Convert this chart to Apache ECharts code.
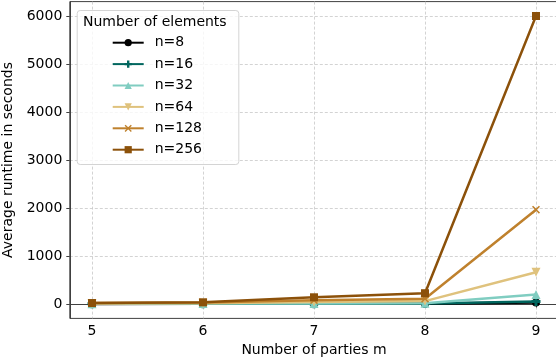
<!DOCTYPE html>
<html>
<head>
<meta charset="utf-8">
<script src="https://cdn.jsdelivr.net/npm/echarts@6/dist/echarts.min.js"></script>
<style>
  html, body { margin: 0; padding: 0; background: #fff; }
  #chart { width: 556px; height: 362px; }
</style>
</head>
<body>
<div id="chart"></div>
<script>
// Number of parties on the x axis
const parties = [5, 6, 7, 8, 9];
// Average runtime (seconds) for each number of elements
const n8   = [2, 3, 4, 5, 30];
const n16  = [3, 4, 6, 8, 50];
const n32  = [5, 8, 10, 15, 200];
const n64  = [10, 15, 40, 60, 660];
const n128 = [20, 30, 80, 110, 1965];
const n256 = [20, 35, 140, 225, 6000];
const seriesNames = ['n=8', 'n=16', 'n=32', 'n=64', 'n=128', 'n=256'];
const xTicks = [5, 6, 7, 8, 9];
const yTicks = [0, 1000, 2000, 3000, 4000, 5000, 6000];

const FONT = 'DejaVu Sans';
const plusPath = 'path://M-1,-3H1V-1H3V1H1V3H-1V1H-3V-1H-1Z';
const xPath = 'path://M-3,-2.2L-2.2,-3L0,-0.8L2.2,-3L3,-2.2L0.8,0L3,2.2L2.2,3L0,0.8L-2.2,3L-3,2.2L-0.8,0Z';

const styles = [
  { color: '#000000', symbol: 'circle', size: 8 },
  { color: '#01665e', symbol: plusPath, size: 9 },
  { color: '#80cdc1', symbol: 'triangle', size: 9 },
  { color: '#dfc27d', symbol: 'triangle', size: 9, rotate: 180 },
  { color: '#bf812d', symbol: xPath, size: 8 },
  { color: '#8c510a', symbol: 'rect', size: 8 }
];
const values = [n8, n16, n32, n64, n128, n256];

const series = values.map((vals, i) => ({
  name: seriesNames[i],
  type: 'line',
  data: parties.map((p, j) => [p, vals[j]]),
  symbol: styles[i].symbol,
  symbolSize: styles[i].size,
  symbolRotate: styles[i].rotate || 0,
  showSymbol: true,
  lineStyle: { color: styles[i].color, width: 2.5 },
  itemStyle: { color: styles[i].color, borderWidth: 0 },
  emphasis: { disabled: true },
  animation: false,
  z: 3 + i
}));

const gridLine = { show: true, lineStyle: { color: '#c8c8c8', width: 0.8, type: [3, 2] } };

const chart = echarts.init(document.getElementById('chart'), null, { renderer: 'canvas' });
chart.setOption({
  animation: false,
  backgroundColor: '#ffffff',
  textStyle: { fontFamily: FONT },
  grid: {
    left: 69.8, top: 1.6, width: 488.4, height: 316.8,
    containLabel: false, outerBoundsMode: 'none',
    show: true, borderColor: '#404040', borderWidth: 1,
    backgroundColor: 'transparent'
  },
  xAxis: {
    type: 'value', min: 4.8, max: 9.2,
    name: 'Number of parties m', nameLocation: 'middle', nameGap: 21,
    nameTextStyle: { fontSize: 14, color: '#000', fontFamily: FONT },
    axisLine: { show: true, lineStyle: { color: '#404040', width: 1 } },
    axisTick: { show: true, length: 3.5, customValues: xTicks, lineStyle: { color: '#404040' } },
    axisLabel: { customValues: xTicks, fontSize: 14, color: '#000', margin: 6, fontFamily: FONT },
    splitLine: gridLine
  },
  yAxis: {
    type: 'value', min: -300, max: 6300,
    name: 'Average runtime in seconds', nameLocation: 'middle', nameGap: 48,
    nameTextStyle: { fontSize: 14, color: '#000', fontFamily: FONT },
    axisLine: { show: true, lineStyle: { color: '#404040', width: 1 } },
    axisTick: { show: true, length: 3.5, customValues: yTicks, lineStyle: { color: '#404040' } },
    axisLabel: {
      customValues: yTicks, fontSize: 14, color: '#000', margin: 7.5, fontFamily: FONT,
      formatter: (v) => String(v)
    },
    splitLine: gridLine
  },
  legend: {
    orient: 'vertical', left: 111.7, top: 35.7, padding: 0, z: 100,
    itemWidth: 31, itemHeight: 9, itemGap: 7.4,
    data: seriesNames,
    textStyle: { fontSize: 14, color: '#000', fontFamily: FONT, padding: [0, 0, 0, 6], lineHeight: 14 },
    selectedMode: false
  },
  graphic: [
    {
      type: 'rect', left: 76.7, top: 10, z: 50,
      shape: { width: 161.6, height: 154, r: 3 },
      style: { fill: 'rgba(255,255,255,0.8)', stroke: '#d4d4d4', lineWidth: 1 }
    },
    {
      type: 'text', left: 83, top: 15, z: 51,
      style: { text: 'Number of elements', font: '14px "DejaVu Sans"', fill: '#000' }
    }
  ],
  series: series
});
</script>
</body>
</html>
